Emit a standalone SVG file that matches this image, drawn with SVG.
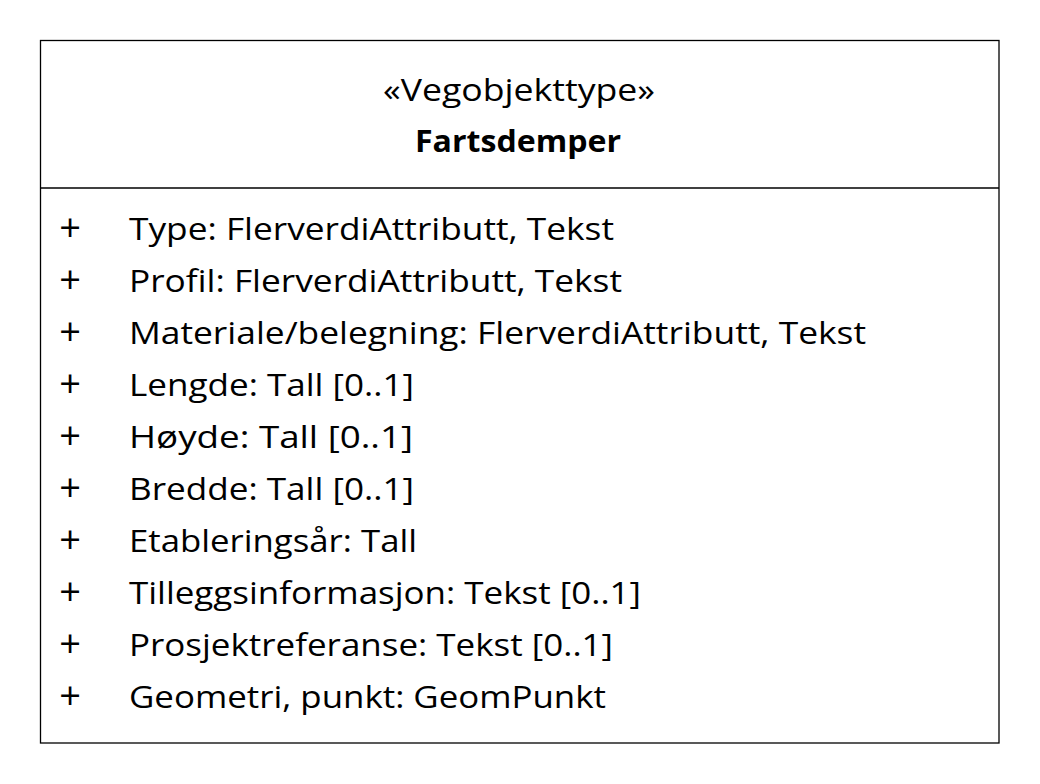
<svg xmlns="http://www.w3.org/2000/svg" width="1040" height="784" viewBox="0 0 1040 784">
<style>
  .t { font-family: "Open Sans", "Liberation Sans", sans-serif; font-size: 31px; fill: #000; }
  .b { font-weight: bold; }
  .c { text-anchor: middle; }
  .p { font-size: 38px; }
  .box { fill: #fff; stroke: #000; stroke-width: 1.3; }
</style>
<rect width="1040" height="784" fill="#fff"/>
<g id="Fartsdemper">
  <rect class="box" x="40.5" y="40.5" width="958.5" height="702.5"/>
  <line x1="40.5" y1="188" x2="999" y2="188" stroke="#000" stroke-width="1.3"/>
  <text class="t c" x="519" y="101" textLength="272" lengthAdjust="spacingAndGlyphs">«Vegobjekttype»</text>
  <text class="t b c" x="518" y="152" textLength="206" lengthAdjust="spacingAndGlyphs">Fartsdemper</text>
  <g id="attributes">
    <text class="t c p" x="70" y="241">+</text>
    <text class="t" x="129" y="240" textLength="485" lengthAdjust="spacingAndGlyphs">Type: FlerverdiAttributt, Tekst</text>
    <text class="t c p" x="70" y="293">+</text>
    <text class="t" x="129" y="292" textLength="493" lengthAdjust="spacingAndGlyphs">Profil: FlerverdiAttributt, Tekst</text>
    <text class="t c p" x="70" y="345">+</text>
    <text class="t" x="129" y="344" textLength="737" lengthAdjust="spacingAndGlyphs">Materiale/belegning: FlerverdiAttributt, Tekst</text>
    <text class="t c p" x="70" y="397">+</text>
    <text class="t" x="129" y="396" textLength="285" lengthAdjust="spacingAndGlyphs">Lengde: Tall [0..1]</text>
    <text class="t c p" x="70" y="449">+</text>
    <text class="t" x="129" y="448" textLength="284" lengthAdjust="spacingAndGlyphs">Høyde: Tall [0..1]</text>
    <text class="t c p" x="70" y="501">+</text>
    <text class="t" x="129" y="500" textLength="285" lengthAdjust="spacingAndGlyphs">Bredde: Tall [0..1]</text>
    <text class="t c p" x="70" y="553">+</text>
    <text class="t" x="129" y="552" textLength="288" lengthAdjust="spacingAndGlyphs">Etableringsår: Tall</text>
    <text class="t c p" x="70" y="605">+</text>
    <text class="t" x="129" y="604" textLength="512" lengthAdjust="spacingAndGlyphs">Tilleggsinformasjon: Tekst [0..1]</text>
    <text class="t c p" x="70" y="657">+</text>
    <text class="t" x="129" y="656" textLength="484" lengthAdjust="spacingAndGlyphs">Prosjektreferanse: Tekst [0..1]</text>
    <text class="t c p" x="70" y="709">+</text>
    <text class="t" x="129" y="708" textLength="477" lengthAdjust="spacingAndGlyphs">Geometri, punkt: GeomPunkt</text>
  </g>
</g>
<g id="connectors"/>
</svg>
